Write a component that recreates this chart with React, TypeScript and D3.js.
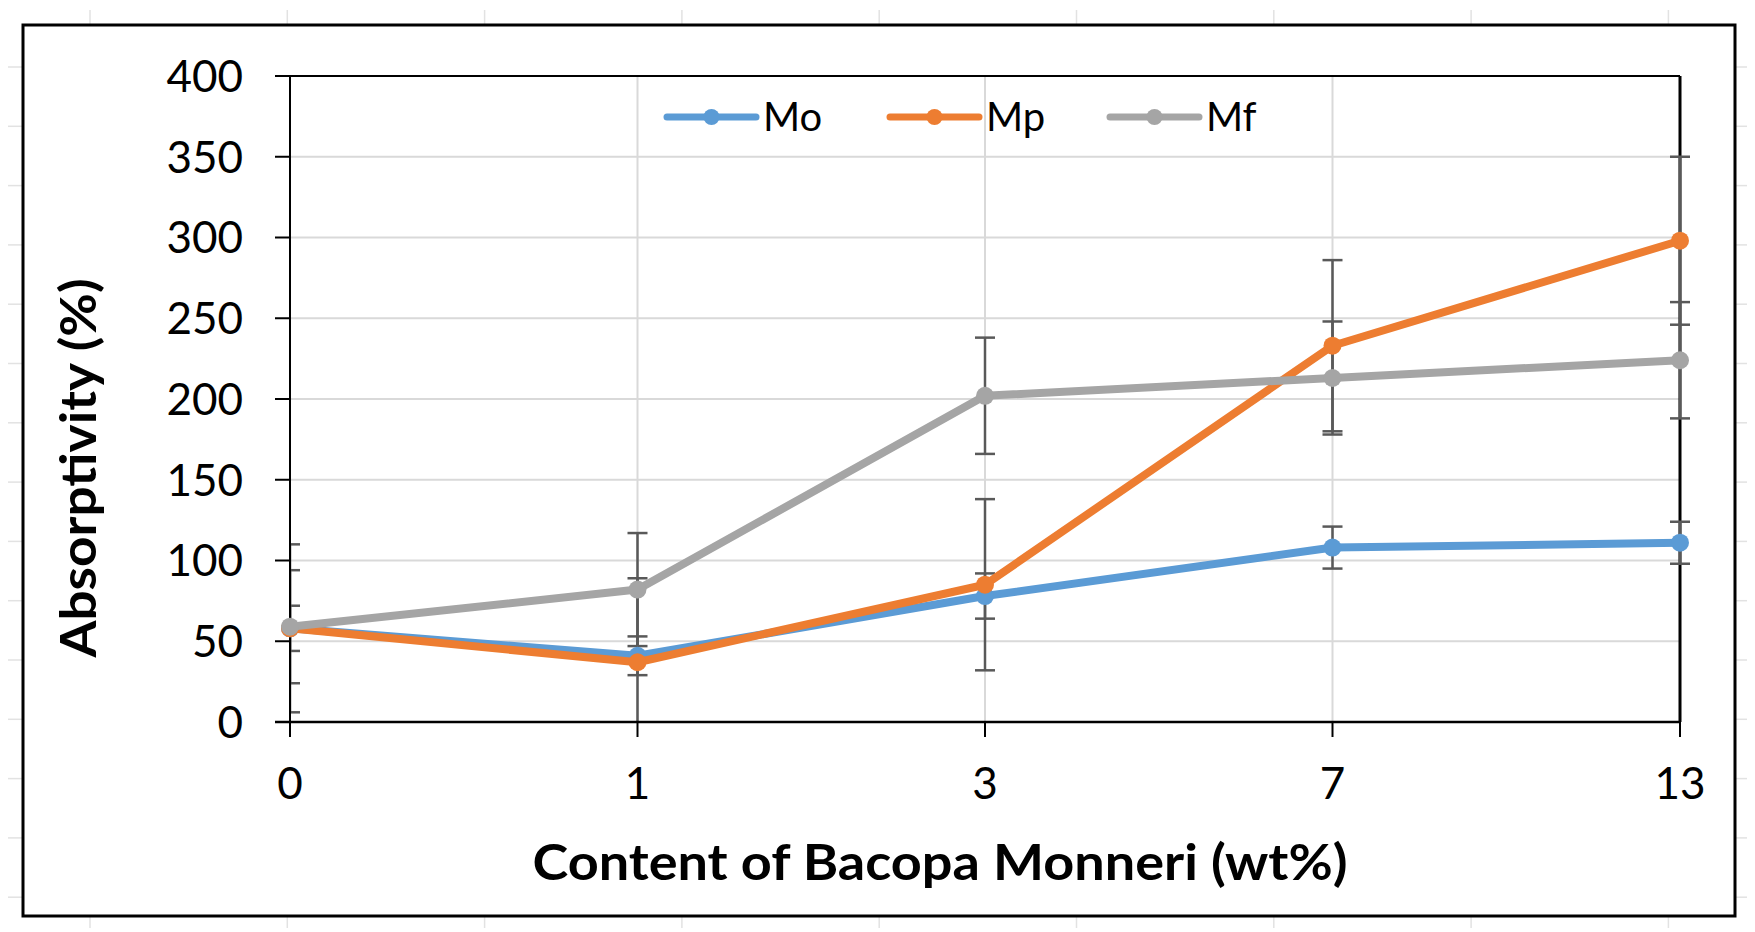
import React from "react";
import * as d3 from "d3";

// content of Bacopa Monneri (wt%)
const categories = ["0", "1", "3", "7", "13"];

// absorptivity (%) per series
const moValues = [58, 41, 78, 108, 111];
const mpValues = [58, 37, 85, 233, 298];
const mfValues = [59, 82, 202, 213, 224];

// error bar half-widths
const moErrors = [14, 12, 14, 13, 13];
const mpErrors = [52, 52, 53, 53, 52];
const mfErrors = [35, 35, 36, 35, 36];

const yTicks = [0, 50, 100, 150, 200, 250, 300, 350, 400];

const series = [
    { name: "Mo", values: moValues, errors: moErrors, color: "#5b9bd5" },
    { name: "Mp", values: mpValues, errors: mpErrors, color: "#ed7d31" },
    { name: "Mf", values: mfValues, errors: mfErrors, color: "#a5a5a5" },
];

const W = 1755,
    H = 932;
const plot = { left: 290, right: 1680, top: 76, bottom: 722 };
const frame = { left: 23, top: 25, right: 1735, bottom: 916 };
const font = "Lato, 'Open Sans', sans-serif";

export default function App() {
    const x = d3.scalePoint<string>().domain(categories).range([plot.left, plot.right]);
    const y = d3.scaleLinear().domain([0, 400]).range([plot.bottom, plot.top]);

    const line = d3
        .line<number>()
        .x((_, i) => x(categories[i]) as number)
        .y((d) => y(d));

    // faint sheet cell lines peeking out round the chart frame
    const sheetCols = d3.range(90, W, 197.3);
    const sheetRows = d3.range(67, H, 59.3);

    const legendX = [667, 890, 1110];

    return (
        <svg width={W} height={H} style={{ position: "absolute", left: 0, top: 0, background: "#fff" }}>
            <defs>
                <clipPath id="plotClip">
                    <rect x={plot.left + 1} y={plot.top - 20} width={plot.right - plot.left + 20} height={plot.bottom - plot.top + 20} />
                </clipPath>
            </defs>
            <rect width={W} height={H} fill="#fff" />

            {/* sheet cell lines */}
            <g stroke="#e2e2e2" strokeWidth={1.5}>
                {sheetCols.map((c) => (
                    <g key={"c" + c}>
                        <line x1={c} x2={c} y1={10} y2={frame.top} />
                        <line x1={c} x2={c} y1={frame.bottom} y2={H - 4} />
                    </g>
                ))}
                {sheetRows
                    .filter((r) => r < frame.bottom)
                    .map((r) => (
                        <g key={"r" + r}>
                            <line x1={8} x2={frame.left} y1={r} y2={r} />
                            <line x1={frame.right} x2={W - 8} y1={r} y2={r} />
                        </g>
                    ))}
            </g>

            {/* chart frame */}
            <rect
                x={frame.left}
                y={frame.top}
                width={frame.right - frame.left}
                height={frame.bottom - frame.top}
                fill="#fff"
                stroke="#000"
                strokeWidth={3}
            />

            {/* gridlines */}
            <g stroke="#d9d9d9" strokeWidth={2}>
                {yTicks
                    .filter((t) => t > 0 && t < 400)
                    .map((t) => (
                        <line key={t} x1={plot.left} x2={plot.right} y1={y(t)} y2={y(t)} />
                    ))}
                {categories.slice(1, -1).map((c) => (
                    <line key={c} x1={x(c)} x2={x(c)} y1={plot.top} y2={plot.bottom} />
                ))}
            </g>

            {/* plot box top and right */}
            <line x1={plot.left} x2={plot.right} y1={plot.top} y2={plot.top} stroke="#000" strokeWidth={2} />
            <line x1={plot.right} x2={plot.right} y1={plot.top} y2={plot.bottom} stroke="#000" strokeWidth={3} />

            {/* error bars */}
            <g clipPath="url(#plotClip)" stroke="#595959" strokeWidth={2.5}>
                {series.map((s) =>
                    s.values.map((v, i) => {
                        const cx = x(categories[i]) as number;
                        const hi = y(v + s.errors[i]);
                        const lo = y(v - s.errors[i]);
                        return (
                            <g key={s.name + i}>
                                <line x1={cx} x2={cx} y1={hi} y2={lo} />
                                <line x1={cx - 10} x2={cx + 10} y1={hi} y2={hi} />
                                <line x1={cx - 10} x2={cx + 10} y1={lo} y2={lo} />
                            </g>
                        );
                    })
                )}
            </g>

            {/* axes */}
            <line x1={plot.left} x2={plot.left} y1={plot.top} y2={plot.bottom + 15} stroke="#000" strokeWidth={2} />
            <line x1={plot.left - 15} x2={plot.right} y1={plot.bottom} y2={plot.bottom} stroke="#000" strokeWidth={2.5} />
            {yTicks.map((t) => (
                <g key={t}>
                    <line x1={plot.left - 15} x2={plot.left} y1={y(t)} y2={y(t)} stroke="#000" strokeWidth={2} />
                    <text
                        x={243}
                        y={y(t)}
                        dy="0.36em"
                        textAnchor="end"
                        fontFamily={font}
                        fontSize={44}
                        fill="#000"
                    >
                        {t}
                    </text>
                </g>
            ))}
            {categories.map((c) => (
                <g key={c}>
                    <line x1={x(c)} x2={x(c)} y1={plot.bottom} y2={plot.bottom + 15} stroke="#000" strokeWidth={2} />
                    <text x={x(c)} y={799} textAnchor="middle" fontFamily={font} fontSize={44} fill="#000">
                        {c}
                    </text>
                </g>
            ))}

            {/* series lines and markers */}
            {series.map((s) => (
                <g key={s.name}>
                    <path d={line(s.values) || ""} fill="none" stroke={s.color} strokeWidth={8} strokeLinejoin="round" />
                    {s.values.map((v, i) => (
                        <circle key={i} cx={x(categories[i])} cy={y(v)} r={9} fill={s.color} />
                    ))}
                </g>
            ))}

            {/* legend */}
            {series.map((s, i) => (
                <g key={s.name} transform={`translate(${legendX[i]}, 117)`}>
                    <line x1={0} x2={89} y1={0} y2={0} stroke={s.color} strokeWidth={7} strokeLinecap="round" />
                    <circle cx={44.5} cy={0} r={8} fill={s.color} />
                    <text x={96} y={0} dy="0.36em" fontFamily={font} fontSize={40} fill="#000">
                        {s.name}
                    </text>
                </g>
            ))}

            {/* axis titles */}
            <text
                x={940}
                y={880}
                textAnchor="middle"
                fontFamily={font}
                fontWeight="bold"
                fontSize={50}
                textLength={815}
                lengthAdjust="spacingAndGlyphs"
                fill="#000"
            >
                Content of Bacopa Monneri (wt%)
            </text>
            <text
                transform="translate(96, 468) rotate(-90)"
                textAnchor="middle"
                fontFamily={font}
                fontWeight="bold"
                fontSize={50}
                textLength={379}
                lengthAdjust="spacingAndGlyphs"
                fill="#000"
            >
                Absorptivity (%)
            </text>
        </svg>
    );
}
